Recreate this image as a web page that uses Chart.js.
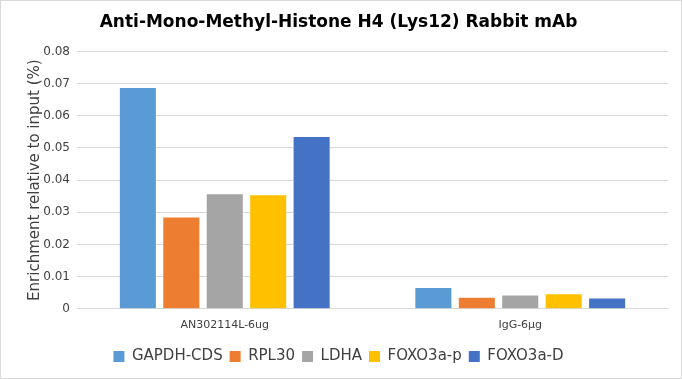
<!DOCTYPE html>
<html><head><meta charset="utf-8">
<script src="https://cdn.jsdelivr.net/npm/chart.js@4"></script>
<style>html,body{margin:0;padding:0;background:#fff}#w{width:682px;height:379px;position:relative;box-sizing:border-box;border:1px solid #d9d9d9}</style>
</head><body><div id="w"><canvas id="c"></canvas></div>
<script>
const categories = ["AN302114L-6ug", "IgG-6μg"];
const seriesNames = ["GAPDH-CDS", "RPL30", "LDHA", "FOXO3a-p", "FOXO3a-D"];
const gapdh = [0.0686, 0.0065];
const rpl30 = [0.0284, 0.0034];
const ldha = [0.0356, 0.0041];
const foxo3aP = [0.0353, 0.0045];
const foxo3aD = [0.0534, 0.0032];
const colors = ["#5B9BD5", "#ED7D31", "#A5A5A5", "#FFC000", "#4472C4"];
const values = [gapdh, rpl30, ldha, foxo3aP, foxo3aD];
const font = 'DejaVu Sans';
Chart.defaults.font.family = font;
new Chart(document.getElementById('c'), {
  type: 'bar',
  data: {
    labels: categories,
    datasets: seriesNames.map((n, i) => ({label: n, data: values[i], backgroundColor: colors[i], categoryPercentage: 0.735, barPercentage: 0.83}))
  },
  options: {
    responsive: true, maintainAspectRatio: false, animation: false,
    layout: {padding: {left: 8, right: 13, top: 6, bottom: 4}},
    plugins: {
      title: {display: true, text: 'Anti-Mono-Methyl-Histone H4 (Lys12) Rabbit mAb', color: '#000', font: {family: font, size: 17, weight: 'bold'}, padding: {top: 5, bottom: 19}},
      legend: {position: 'bottom', labels: {boxWidth: 11, boxHeight: 11, padding: 7, color: '#404040', font: {family: font, size: 15}}},
      tooltip: {enabled: false}
    },
    scales: {
      x: {grid: {display: false, drawTicks: false}, border: {color: '#d9d9d9'}, ticks: {color: '#404040', font: {family: font, size: 11}, padding: 10}},
      y: {min: 0, max: 0.08, afterFit: s => { s.width = 68; },
          ticks: {stepSize: 0.01, color: '#404040', font: {family: font, size: 12}, padding: 7, callback: v => v === 0 ? '0' : v.toFixed(2)},
          grid: {color: '#d9d9d9', drawTicks: false}, border: {display: false},
          title: {display: true, text: 'Enrichment relative to input (%)', color: '#404040', font: {family: font, size: 15}, padding: {top: 17, bottom: 0}}}
    }
  }
});
</script></body></html>
